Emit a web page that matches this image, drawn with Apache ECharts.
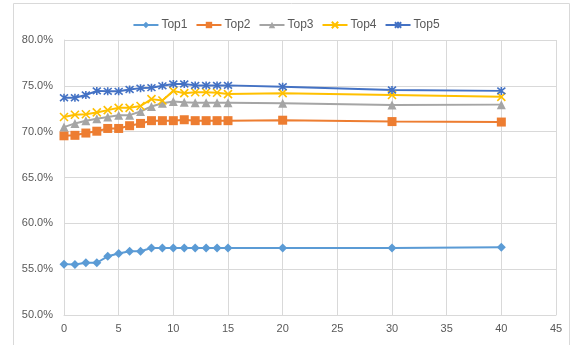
<!DOCTYPE html>
<html><head><meta charset="utf-8">
<script src="https://cdn.jsdelivr.net/npm/echarts@6/dist/echarts.min.js"></script>
<style>html,body{margin:0;padding:0;background:#fff}#c{width:572px;height:345px}</style>
</head><body><div id="c"></div>
<script>
const xs = [0,1,2,3,4,5,6,7,8,9,10,11,12,13,14,15,20,30,40];
const top1 = [55.55,55.5,55.7,55.7,56.4,56.7,56.95,56.95,57.3,57.3,57.3,57.3,57.3,57.3,57.3,57.3,57.3,57.3,57.4];
const top2 = [69.55,69.6,69.85,70.05,70.35,70.35,70.65,70.9,71.2,71.2,71.2,71.3,71.2,71.2,71.2,71.2,71.25,71.1,71.05];
const top3 = [70.5,70.9,71.2,71.4,71.6,71.8,71.8,72.2,72.75,73.1,73.3,73.2,73.15,73.15,73.15,73.15,73.1,72.9,72.95];
const top4 = [71.6,71.85,71.9,72.1,72.35,72.6,72.6,72.8,73.55,73.4,74.45,74.2,74.3,74.3,74.25,74.1,74.2,74.0,73.8];
const top5 = [73.7,73.7,74.0,74.45,74.4,74.4,74.6,74.75,74.8,75.0,75.2,75.2,75.05,75.05,75.05,75.05,74.9,74.55,74.45];
const names = ['Top1','Top2','Top3','Top4','Top5'];
const colors = ['#5B9BD5','#ED7D31','#A5A5A5','#FFC000','#4472C4'];
const vals = [top1,top2,top3,top4,top5];
const symbols = ['diamond','rect','triangle','path://M0,0L10,10M10,0L0,10','path://M0,0L10,10M10,0L0,10M5,-1L5,11'];
const sizes = [9,9,9,8,8];
const chart = echarts.init(document.getElementById('c'));
chart.setOption({
  animation:false,
  textStyle:{fontFamily:'Liberation Sans'},
  graphic:[{type:'rect',shape:{x:13.5,y:3.5,width:556,height:350},style:{fill:'none',stroke:'#d9d9d9',lineWidth:1},silent:true}],
  legend:{top:14,left:'center',itemWidth:25,itemHeight:8,itemGap:8,
    textStyle:{color:'#595959',fontSize:12,padding:[0,0,0,-2]},data:names},
  grid:{left:64,right:16,top:40,bottom:30},
  xAxis:{type:'value',min:0,max:45,interval:5,
    axisLine:{show:true,lineStyle:{color:'#d9d9d9'}},axisTick:{show:false},
    splitLine:{show:true,lineStyle:{color:'#d9d9d9'}},
    axisLabel:{color:'#595959',fontSize:11,margin:8}},
  yAxis:{type:'value',min:50,max:80,interval:5,
    axisLine:{show:true,lineStyle:{color:'#d9d9d9'}},axisTick:{show:false},
    splitLine:{show:true,lineStyle:{color:'#d9d9d9'}},
    axisLabel:{color:'#595959',fontSize:11,margin:11,formatter:v=>v.toFixed(1)+'%'}},
  series: names.map((n,i)=>({
    name:n,type:'line',data:xs.map((x,j)=>[x,vals[i][j]]),
    symbol:symbols[i],symbolSize:sizes[i],
    lineStyle:{color:colors[i],width:2},
    itemStyle:{color:colors[i],borderColor:colors[i],borderWidth:i>=3?1.6:0}
  }))
});
</script></body></html>
